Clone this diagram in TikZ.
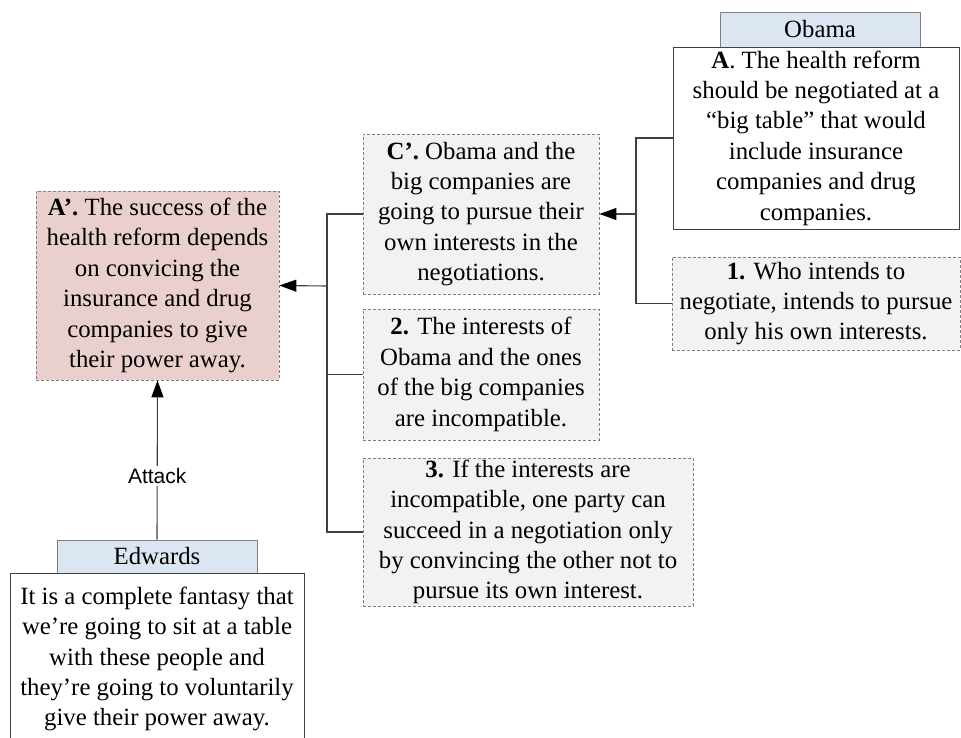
\documentclass[tikz,border=0pt]{standalone}
\usepackage{fontspec}
\setmainfont{Liberation Serif}
\newfontfamily\labelsans{Liberation Sans}
\usetikzlibrary{arrows.meta}
\definecolor{linegray}{HTML}{404040}
\definecolor{dashgray}{HTML}{808080}
\definecolor{premfill}{HTML}{F2F2F2}
\definecolor{goalfill}{HTML}{EACFCF}
\definecolor{tagfill}{HTML}{DCE6F2}
\begin{document}
\begin{tikzpicture}[
      x=1pt, y=-1pt,
      font=\fontsize{24.8}{30.4}\selectfont,
      claim/.style={draw=dashgray, dash pattern=on 3pt off 2pt, line width=0.8pt,
        fill=premfill, align=center, inner sep=0pt},
      quote/.style={draw=linegray, line width=0.9pt, fill=white, align=center, inner sep=0pt},
      party/.style={draw=dashgray, line width=0.9pt, fill=tagfill, inner sep=0pt,
        minimum width=200pt},
      link/.style={draw=linegray, line width=1.1pt},
      arr/.style={link, -{Triangle[length=17pt, width=12pt, color=black, fill=black]}}
    ]
    \useasboundingbox (0,0) rectangle (961,737);
    \clip (0,0) rectangle (961,737);
    % Obama's side
    \node[party, minimum height=35pt] (obama) at (820,29.5) {Obama};
    \node[quote, minimum width=286pt, minimum height=182pt] (obamaA) at (816,138)
      {\textbf{A}. The health reform\\should be negotiated at a\\“big table” that would\\include insurance\\companies and drug\\companies.};
    \node[claim, minimum width=288pt, minimum height=93pt] (one) at (816,303.5)
      {\textbf{1.} Who intends to\\negotiate, intends to pursue\\only his own interests.};
    % reconstructed premises
    \node[claim, minimum width=236pt, minimum height=160pt] (cprime) at (481,214)
      {\textbf{C’.} Obama and the\\big companies are\\going to pursue their\\own interests in the\\negotiations.};
    \node[claim, minimum width=236pt, minimum height=131pt] (two) at (481,374.5)
      {\textbf{2.} The interests of\\Obama and the ones\\of the big companies\\are incompatible.};
    \node[claim, minimum width=330pt, minimum height=148pt] (three) at (528,532)
      {\textbf{3.} If the interests are\\incompatible, one party can\\succeed in a negotiation only\\by convincing the other not to\\pursue its own interest.};
    % conclusion
    \node[claim, fill=goalfill, minimum width=243pt, minimum height=189pt] (aprime) at (157.5,285.5)
      {\textbf{A’.} The success of the\\health reform depends\\on convicing the\\insurance and drug\\companies to give\\their power away.};
    % Edwards' side
    \node[party, minimum height=33pt] (edwards) at (157,556.5) {Edwards};
    \node[quote, minimum width=294pt, minimum height=171pt, anchor=north] (edwardsQ) at (157,573)
      {It is a complete fantasy that\\we’re going to sit at a table\\with these people and\\they’re going to voluntarily\\give their power away.};
    % connectors
    \coordinate (jC) at (636,214);
    \coordinate (jA) at (327,286);
    \draw[link] (obamaA.west) -| (jC);
    \draw[link] (one.west) -| (jC);
    \draw[arr] (jC) -- (cprime.east);
    \draw[link] (cprime.west) -| (jA);
    \draw[link] (two.west) -| (jA);
    \draw[link] (three.west) -| (jA);
    \draw[arr] (jA) -- (aprime.east);
    \draw[arr] (edwards.north) -- node[pos=0.4, fill=white, inner sep=2pt, font=\labelsans\fontsize{21}{24}\selectfont] (attack) {Attack} (aprime.south);
  \end{tikzpicture}
\end{document}
